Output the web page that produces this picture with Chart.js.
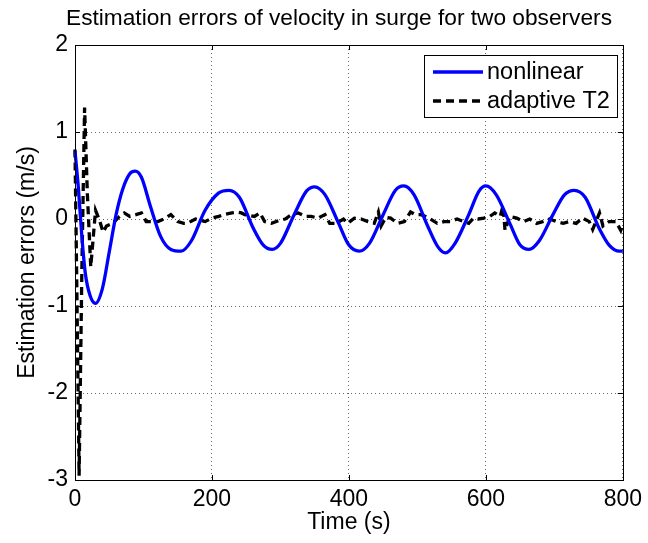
<!DOCTYPE html>
<html>
<head>
<meta charset="utf-8">
<script src="https://cdn.jsdelivr.net/npm/chart.js@4/dist/chart.umd.min.js"></script>
<style>
  body { margin: 0; background: #fff; }
</style>
</head>
<body>
<canvas id="myChart" width="648" height="543"></canvas>
<script>
'use strict';
// values
const nonlinearTime = [0, 5, 10, 15, 22, 30, 40, 50, 60, 70, 80, 88, 97, 110, 125, 140, 155, 170, 190, 210, 225, 240, 260, 275, 288, 300, 320, 338, 350, 365, 385, 400, 415, 430, 450, 468, 480, 495, 515, 530, 541, 555, 575, 590, 600, 615, 635, 650, 663, 678, 698, 715, 729, 745, 765, 780, 795, 800];
const nonlinearErr = [0.78, 0.35, -0.2, -0.62, -0.88, -0.97, -0.8, -0.38, 0.05, 0.35, 0.52, 0.55, 0.48, 0.15, -0.2, -0.35, -0.37, -0.25, 0.1, 0.3, 0.33, 0.25, -0.1, -0.3, -0.35, -0.28, 0.05, 0.32, 0.37, 0.28, -0.05, -0.3, -0.37, -0.28, 0.05, 0.33, 0.38, 0.28, -0.08, -0.32, -0.39, -0.28, 0.05, 0.32, 0.38, 0.28, -0.05, -0.3, -0.35, -0.25, 0.05, 0.28, 0.33, 0.25, -0.1, -0.3, -0.37, -0.37];

const adaptiveTime = [0, 3, 6, 10, 14, 18, 23, 30, 36, 41, 46, 55, 65, 72, 80, 89, 97, 104, 111, 121, 130, 140, 150, 159, 164, 176, 190, 200, 210, 217, 229, 237, 243, 248, 262, 270, 277, 287, 297, 307, 316, 326, 336, 345, 355, 365, 372, 379, 386, 392, 398, 408, 418, 428, 437, 443, 447, 454, 461, 471, 481, 490, 497, 505, 512, 519, 529, 539, 548, 558, 568, 575, 582, 589, 597, 606, 613, 621, 625, 628, 635, 645, 655, 664, 674, 683, 693, 703, 713, 722, 732, 741, 751, 756, 766, 771, 780, 790, 797, 800];
const adaptiveErr = [0.8, -1.0, -2.95, -0.6, 1.28, 0.3, -0.55, 0.1, -0.02, -0.15, -0.08, -0.05, 0.03, 0.07, 0.03, 0.05, 0.07, -0.03, -0.03, -0.03, 0.0, 0.05, -0.03, -0.05, -0.05, 0.0, -0.03, 0.01, 0.03, 0.05, 0.07, 0.08, 0.07, 0.05, 0.03, 0.07, -0.03, -0.05, -0.02, 0.0, 0.05, 0.07, 0.03, 0.03, 0.01, 0.05, -0.05, -0.05, -0.03, 0.0, -0.05, 0.01, 0.0, -0.03, -0.05, 0.08, -0.08, 0.02, 0.01, -0.05, -0.03, 0.08, 0.05, 0.05, 0.03, 0.0, -0.05, -0.03, -0.03, 0.0, -0.03, -0.05, 0.01, 0.0, 0.01, 0.03, 0.07, 0.03, 0.15, -0.13, 0.03, 0.01, -0.03, 0.0, -0.05, -0.03, 0.0, -0.03, -0.05, -0.03, -0.05, 0.01, -0.03, -0.12, 0.07, -0.08, -0.03, -0.03, -0.13, -0.06];

const xTicks = [0, 200, 400, 600, 800];
const yTicks = [-3, -2, -1, 0, 1, 2];
const chartTitle = 'Estimation errors of velocity in surge for two observers';

const FONT = 'Liberation Sans, Arial, sans-serif';

function toPoints(xs, ys) {
  return xs.map((x, i) => ({ x: x, y: ys[i] }));
}

// matlab style title, box, inward ticks and legend
const matlabAxes = {
  id: 'matlabAxes',
  afterDraw(chart) {
    const ctx = chart.ctx;
    const a = chart.chartArea;
    const xs = chart.scales.x, ys = chart.scales.y;
    ctx.save();
    ctx.fillStyle = '#000';
    ctx.font = '22.7px ' + FONT;
    ctx.textAlign = 'center';
    ctx.textBaseline = 'middle';
    ctx.fillText(chartTitle, 339, 19);
    ctx.textAlign = 'left';

    ctx.strokeStyle = '#000';
    ctx.lineWidth = 1;
    ctx.beginPath();
    xTicks.forEach(v => {
      const px = Math.round(xs.getPixelForValue(v)) + 0.5;
      ctx.moveTo(px, a.bottom); ctx.lineTo(px, a.bottom - 5);
      ctx.moveTo(px, a.top); ctx.lineTo(px, a.top + 5);
    });
    yTicks.forEach(v => {
      const py = Math.round(ys.getPixelForValue(v)) + 0.5;
      ctx.moveTo(a.left, py); ctx.lineTo(a.left + 5, py);
      ctx.moveTo(a.right, py); ctx.lineTo(a.right - 5, py);
    });
    ctx.stroke();
    ctx.strokeRect(Math.round(a.left) + 0.5, Math.round(a.top) + 0.5,
      Math.round(a.right - a.left), Math.round(a.bottom - a.top));

    // legend
    const bx = 424.5, by = 55.5, bw = 193, bh = 62;
    ctx.fillStyle = '#fff';
    ctx.fillRect(bx, by, bw, bh);
    ctx.strokeRect(bx, by, bw, bh);
    ctx.font = '23.5px ' + FONT;
    chart.data.datasets.forEach((ds, i) => {
      const ly = 72 + i * 29;
      ctx.strokeStyle = ds.borderColor;
      ctx.lineWidth = ds.borderWidth;
      ctx.setLineDash(ds.borderDash || []);
      ctx.beginPath();
      ctx.moveTo(433, ly); ctx.lineTo(483, ly);
      ctx.stroke();
      ctx.setLineDash([]);
      ctx.fillStyle = '#000';
      ctx.fillText(ds.label, 487, ly + 1);
    });
    ctx.restore();
  }
};

function init() {
  const ctx = document.getElementById('myChart').getContext('2d');
  new Chart(ctx, {
    type: 'line',
    data: {
      datasets: [
        {
          label: 'nonlinear',
          data: toPoints(nonlinearTime, nonlinearErr),
          borderColor: '#0000ff',
          borderWidth: 3.3,
          pointRadius: 0,
          fill: false,
          cubicInterpolationMode: 'monotone'
        },
        {
          label: 'adaptive T2',
          data: toPoints(adaptiveTime, adaptiveErr),
          borderColor: '#000000',
          borderWidth: 3.3,
          borderDash: [8, 5],
          pointRadius: 0,
          fill: false,
          tension: 0
        }
      ]
    },
    options: {
      responsive: false,
      animation: false,
      clip: false,
      layout: { padding: { left: 0, right: 21, top: 45, bottom: 0 } },
      plugins: {
        legend: { display: false },
        tooltip: { enabled: false },
        title: { display: false }
      },
      scales: {
        x: {
          type: 'linear',
          min: 0, max: 800,
          afterBuildTicks: s => { s.ticks = xTicks.map(v => ({ value: v })); },
          afterFit: s => { s.height = 63; },
          ticks: { color: '#000', padding: 6, maxRotation: 0, font: { family: FONT, size: 23 } },
          grid: { color: '#666', lineWidth: 1, drawTicks: false },
          border: { display: false, dash: [1, 3] },
          title: {
            display: true, text: 'Time (s)', color: '#000',
            font: { family: FONT, size: 23 }, padding: { top: 0, bottom: 7 }
          }
        },
        y: {
          type: 'linear',
          min: -3, max: 2,
          afterBuildTicks: s => { s.ticks = yTicks.map(v => ({ value: v })); },
          afterFit: s => { s.width = 75; },
          ticks: { color: '#000', padding: 7, font: { family: FONT, size: 23 } },
          grid: { color: '#666', lineWidth: 1, drawTicks: false },
          border: { display: false, dash: [1, 3] },
          title: {
            display: true, text: 'Estimation errors (m/s)', color: '#000',
            font: { family: FONT, size: 23 }, padding: { top: 14, bottom: 0 }
          }
        }
      }
    },
    plugins: [matlabAxes]
  });
}

init();
</script>
</body>
</html>
